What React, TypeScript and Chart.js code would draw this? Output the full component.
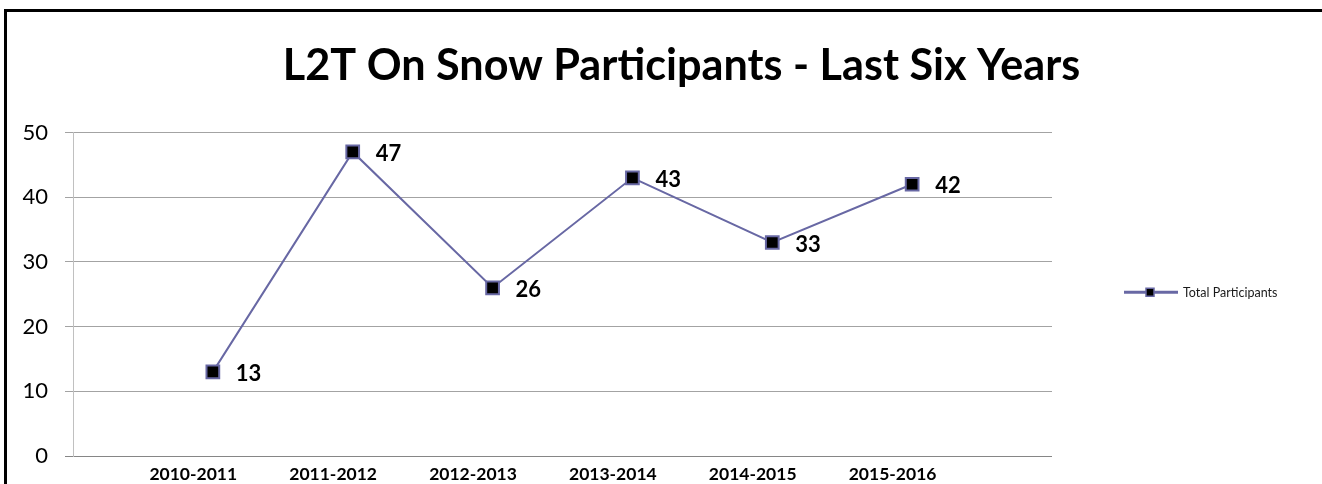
import { useEffect, useRef } from 'react';
import { Chart, registerables } from 'chart.js';

Chart.register(...registerables);

const categories = ['2010-2011', '2011-2012', '2012-2013', '2013-2014', '2014-2015', '2015-2016'];
const participants = [13, 47, 26, 43, 33, 42];
const yTickValues = [0, 10, 20, 30, 40, 50];
const seriesName = 'Total Participants';
const titleText = 'L2T On Snow Participants - Last Six Years';

const LINE_COLOR = '#6868a4';
const FONT = 'Lato, "Noto Sans", sans-serif';

export default function App() {
  const ref = useRef<HTMLCanvasElement | null>(null);

  useEffect(() => {
    const canvas = ref.current;
    if (!canvas) return;

    const titlePlugin = {
      id: 'excelTitle',
      afterDraw(chart: any) {
        const ctx = chart.ctx;
        ctx.save();
        ctx.font = `bold 43.2px ${FONT}`;
        ctx.fillStyle = '#000';
        ctx.textAlign = 'center';
        ctx.textBaseline = 'alphabetic';
        ctx.fillText(titleText, chart.width / 2 + 20.5, 80);
        ctx.restore();
      },
    };

    const dataLabelPlugin = {
      id: 'valueLabels',
      afterDatasetsDraw(chart: any) {
        const ctx = chart.ctx;
        const meta = chart.getDatasetMeta(0);
        ctx.save();
        ctx.font = `bold 22px ${FONT}`;
        ctx.fillStyle = '#000';
        ctx.textAlign = 'left';
        ctx.textBaseline = 'middle';
        meta.data.forEach((pt: any, i: number) => {
          ctx.fillText(String(participants[i]), pt.x + 23, pt.y + 2);
        });
        ctx.restore();
      },
    };

    const legendPlugin = {
      id: 'sideLegend',
      afterDraw(chart: any) {
        const ctx = chart.ctx;
        const area = chart.chartArea;
        const x0 = area.right + 72;
        const y = (area.top + area.bottom) / 2 - 2;
        ctx.save();
        ctx.strokeStyle = LINE_COLOR;
        ctx.lineWidth = 3;
        ctx.beginPath();
        ctx.moveTo(x0, y);
        ctx.lineTo(x0 + 54, y);
        ctx.stroke();
        ctx.fillStyle = '#000';
        ctx.fillRect(x0 + 22, y - 4, 8, 8);
        ctx.lineWidth = 1.5;
        ctx.strokeRect(x0 + 22, y - 4, 8, 8);
        ctx.font = `12.5px ${FONT}`;
        ctx.fillStyle = '#1a1a1a';
        ctx.textAlign = 'left';
        ctx.textBaseline = 'middle';
        ctx.fillText(seriesName, x0 + 59, y + 0.5);
        ctx.restore();
      },
    };

    const chart = new Chart(canvas, {
      type: 'line',
      data: {
        datasets: [
          {
            label: seriesName,
            data: participants.map((v, i) => ({ x: i + 1, y: v })),
            borderColor: LINE_COLOR,
            borderWidth: 2,
            pointStyle: 'rect',
            pointRadius: 9,
            pointBackgroundColor: '#000',
            pointBorderColor: LINE_COLOR,
            pointBorderWidth: 2,
            tension: 0,
          },
        ],
      },
      options: {
        responsive: false,
        animation: false,
        devicePixelRatio: 1,
        layout: { padding: { left: 0, right: 270, top: 132.5, bottom: 0 } },
        plugins: {
          legend: { display: false },
          title: { display: false },
          tooltip: { enabled: false },
        },
        scales: {
          x: {
            type: 'linear',
            min: 0,
            max: categories.length + 1,
            afterBuildTicks: (scale: any) => {
              scale.ticks = categories.map((_, i) => ({ value: i + 0.86 }));
            },
            afterFit: (scale: any) => {
              scale.height = 28;
            },
            grid: { display: false, drawTicks: false },
            border: { display: false },
            ticks: {
              autoSkip: false,
              maxRotation: 0,
              padding: 9,
              color: '#000',
              font: { family: FONT, size: 17.5, weight: 'bold', lineHeight: 1.086 },
              callback: (_v: any, i: number) => categories[i],
            },
          },
          y: {
            min: 0,
            max: 50,
            afterBuildTicks: (scale: any) => {
              scale.ticks = yTickValues.map((v) => ({ value: v }));
            },
            afterFit: (scale: any) => {
              scale.width = 73;
            },
            grid: {
              color: (c: any) => (c.tick && c.tick.value === 0 ? '#868686' : '#a3a3a3'),
              lineWidth: 1,
              tickLength: 8,
              drawTicks: true,
            },
            border: { display: true, color: '#c0c0c0', width: 1 },
            ticks: {
              padding: 17,
              color: '#000',
              font: { family: FONT, size: 22, lineHeight: 1 },
            },
          },
        },
      },
      plugins: [titlePlugin, dataLabelPlugin, legendPlugin],
    } as any);

    return () => {
      chart.destroy();
    };
  }, []);

  return (
    <div style={{ position: 'fixed', left: 0, top: 0, width: 1322, height: 484, background: '#fff', overflow: 'hidden' }}>
      <canvas ref={ref} width={1322} height={484} style={{ position: 'absolute', left: 0, top: 0, width: 1322, height: 484 }} />
      <div
        style={{
          position: 'absolute',
          left: 4,
          top: 9,
          width: 1400,
          height: 600,
          border: '3px solid #000',
          boxSizing: 'border-box',
          pointerEvents: 'none',
        }}
      />
    </div>
  );
}
